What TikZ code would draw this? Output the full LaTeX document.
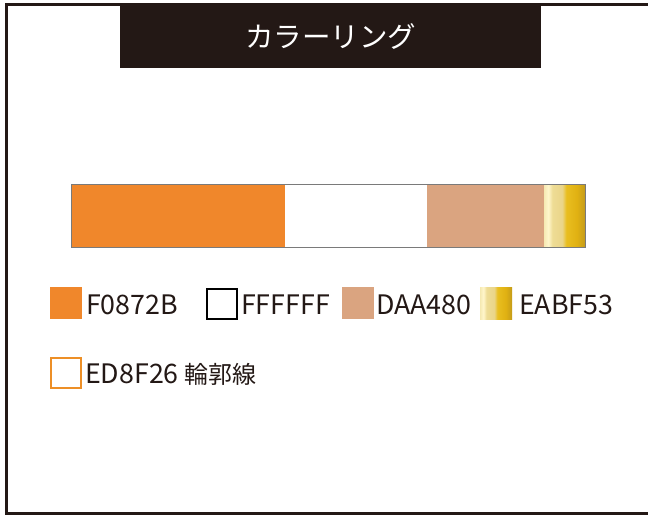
\documentclass[tikz,border=0pt]{standalone}
\usepackage{fontspec}
\setmainfont{Noto Sans CJK JP}
\definecolor{ink}{HTML}{231815}
\definecolor{corange}{HTML}{F0872B}
\definecolor{cbeige}{HTML}{DAA480}
\definecolor{cline}{HTML}{ED8F26}
\definecolor{barline}{HTML}{7A7A7A}
\definecolor{ga}{HTML}{F6EAB4}
\definecolor{gb}{HTML}{FFF6CC}
\definecolor{gc}{HTML}{EEDC95}
\definecolor{gd}{HTML}{EAD589}
\definecolor{ge}{HTML}{E9BE20}
\definecolor{gf}{HTML}{E0B112}
\definecolor{gg}{HTML}{C49B1A}
\pgfdeclarehorizontalshading{goldshade}{100bp}{color(0bp)=(ga); color(25bp)=(ga); color(30bp)=(gb); color(35bp)=(gc); color(47bp)=(gd); color(52bp)=(ge); color(65bp)=(gf); color(75bp)=(gg); color(100bp)=(gg)}
\newcommand{\kanjisize}{\fontsize{24}{28}\selectfont}
\tikzset{
  swatch/.style={minimum width=32pt, minimum height=32pt, inner sep=0pt, anchor=north west},
  label/.style={anchor=base west, inner sep=0pt, text=ink, font=\fontsize{26.8}{30}\selectfont},
  seg/.style={inner sep=0pt, minimum height=63pt, anchor=north west},
}
\begin{document}
\begin{tikzpicture}[x=1pt,y=-1pt]
\useasboundingbox (0,0) rectangle (648,515);
\fill[white] (0,0) rectangle (648,515);
% frame
\draw[ink, line width=2.2pt] (648,4.5) -- (6.5,4.5) -- (6.5,513.5) -- (648,513.5);
% title
\node[fill=ink, minimum width=421pt, minimum height=63pt, inner sep=0pt, anchor=north west,
      text=white, font=\fontsize{28.5}{31}\selectfont] (title) at (120,5) {カラーリング};
% colour bar
\node[seg, fill=corange, minimum width=214pt] (s1) at (71,184) {};
\node[seg, fill=white, minimum width=142pt] (s2) at (285,184) {};
\node[seg, fill=cbeige, minimum width=117pt] (s3) at (427,184) {};
\node[seg, shading=goldshade, minimum width=41pt] (s4) at (544,184) {};
\draw[barline, line width=1pt] (s1.north west) rectangle (s4.south east);
% legend row 1
\node[swatch, fill=corange] (k1) at (50,287) {};
\node[label] (t1) at (86,314) {F0872B};
\node[swatch, draw=black, line width=2pt, fill=white, minimum width=30pt, minimum height=30pt] (k2) at (206,288) {};
\node[label] (t2) at (241,314) {FFFFFF};
\node[swatch, fill=cbeige] (k3) at (342,287) {};
\node[label] (t3) at (376,314) {DAA480};
\node[swatch, shading=goldshade] (k4) at (480,287) {};
\node[label] (t4) at (519,314) {EABF53};
% legend row 2
\node[swatch, draw=cline, line width=2pt, fill=white, minimum width=30pt, minimum height=30pt] (k5) at (50,357) {};
\node[label] (t5) at (85,383) {ED8F26\hspace{6pt}{\kanjisize 輪郭線}};
\end{tikzpicture}
\end{document}
